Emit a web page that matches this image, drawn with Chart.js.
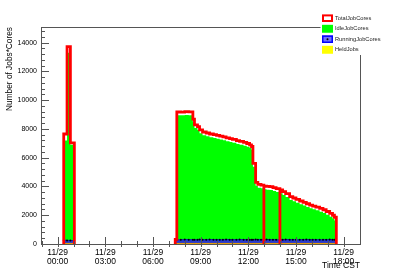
<!DOCTYPE html>
<html><head><meta charset="utf-8">
<style>html,body{margin:0;padding:0;background:#fff}canvas{display:block}</style>
<script src="https://cdn.jsdelivr.net/npm/chart.js@4.4.0/dist/chart.umd.min.js"></script>
</head><body>
<canvas id="c" width="400" height="271"></canvas>
<script>
// hours relative to 11/29 00:00 (CST); null row separates the two active periods
const timeHours = [
  0.38, 0.38, 0.59, 0.80, 1.05,
  4.00,
  7.40, 7.40, 7.50, 7.75, 8.00, 8.25, 8.51, 8.61, 8.80, 8.93,
  9.12, 9.35, 9.56, 9.80, 10.00, 10.20, 10.40, 10.60, 10.82, 11.00,
  11.25, 11.45, 11.70, 11.90, 12.08, 12.20, 12.29, 12.46, 12.60, 12.80,
  12.98, 12.98, 13.15, 13.34, 13.55, 13.75, 13.99, 13.99, 14.16, 14.35,
  14.60, 14.80, 15.00, 15.23, 15.45, 15.65, 15.86, 16.05, 16.25, 16.49,
  16.70, 16.90, 17.12, 17.30, 17.42, 17.54
];
const totalJobCores = [
  0, 7650, 13720, 7030, 0,
  null,
  0, 320, 9180, 9170, 9200, 9190, 8690, 8280, 8160, 7930,
  7790, 7720, 7650, 7600, 7550, 7500, 7450, 7380, 7330, 7270,
  7190, 7130, 7060, 6990, 6900, 6780, 5610, 4290, 4150, 4100,
  0, 4030, 4010, 3990, 3920, 3850, 0, 3760, 3640, 3500,
  3290, 3200, 3100, 2990, 2900, 2800, 2710, 2640, 2570, 2480,
  2380, 2260, 2130, 2000, 1860, 0
];
const idleJobCores = [
  0, 7200, 13300, 6900, 0,
  null,
  0, 0, 8960, 8950, 8970, 8960, 8460, 8060, 7930, 7700,
  7560, 7490, 7420, 7370, 7320, 7270, 7220, 7150, 7100, 7040,
  6960, 6900, 6830, 6760, 6670, 6550, 5380, 4050, 3910, 3870,
  3870, 3800, 3780, 3760, 3690, 3620, 3620, 3530, 3410, 3270,
  3060, 2970, 2870, 2760, 2670, 2570, 2480, 2410, 2340, 2250,
  2150, 2030, 1900, 1770, 1630, 0
];
const runningJobCores = [
  0, 260, 250, 240, 0,
  null,
  0, 300, 290, 300, 310, 300, 300, 290, 300, 310,
  300, 300, 310, 300, 300, 290, 300, 310, 300, 300,
  300, 310, 300, 300, 290, 300, 300, 310, 300, 300,
  300, 300, 310, 300, 300, 290, 300, 300, 300, 310,
  300, 300, 290, 300, 300, 310, 300, 300, 300, 290,
  300, 300, 310, 300, 300, 0
];
const heldJobs = [
  0, 40, 40, 40, 0,
  null,
  0, 40, 40, 40, 40, 40, 40, 40, 40, 40,
  40, 40, 40, 40, 40, 40, 40, 40, 40, 40,
  40, 40, 40, 40, 40, 40, 40, 40, 40, 40,
  40, 40, 40, 40, 40, 40, 40, 40, 40, 40,
  40, 40, 40, 40, 40, 40, 40, 40, 40, 40,
  40, 40, 40, 40, 40, 0
];
const xMajorTicks = [0, 3, 6, 9, 12, 15, 18];
const xDateLabel = '11/29';
const yMajorTicks = [0, 2000, 4000, 6000, 8000, 10000, 12000, 14000];
const legendItems = ['TotalJobCores', 'IdleJobCores', 'RunningJobCores', 'HeldJobs'];

const FONT = "'Liberation Sans', Arial, Helvetica, sans-serif";
const mk = arr => timeHours.map((t, i) => ({x: t, y: arr[i]}));

const rootStyle = {
  id: 'rootStyle',
  afterDatasetsDraw(chart) {
    const {ctx, chartArea: a, scales: {x, y}} = chart;
    ctx.save();
    ctx.strokeStyle = '#555';
    ctx.lineWidth = 1;
    ctx.beginPath();
    for (let v = 0; v <= y.max; v += 400) {
      const py = Math.round(y.getPixelForValue(v)) + 0.5;
      if (py < a.top) continue;
      const len = (v % 2000 === 0) ? 8 : 4;
      ctx.moveTo(a.left, py); ctx.lineTo(a.left + len, py);
    }
    for (let h = Math.ceil(x.min); h <= x.max; h++) {
      const px = Math.round(x.getPixelForValue(h)) + 0.5;
      if (px < a.left || px > a.right) continue;
      if (h % 3 === 0) { ctx.moveTo(px, a.bottom - 7); ctx.lineTo(px, a.bottom + 3); }
      else { ctx.moveTo(px, a.bottom - 3); ctx.lineTo(px, a.bottom + 3); }
    }
    ctx.stroke();
    ctx.strokeRect(Math.round(a.left) + 0.5, Math.round(a.top) + 0.5, Math.round(a.right - a.left), Math.round(a.bottom - a.top));
    ctx.restore();
  },
  afterDraw(chart) {
    const {ctx} = chart;
    ctx.save();
    ctx.fillStyle = '#fff';
    ctx.fillRect(320.5, 0, 80, 55);
    const styles = [
      {fill: '#ffffff', stroke: '#ff0000', lw: 2},
      {fill: '#00ff00', stroke: '#00ff00', lw: 1},
      {fill: '#6f6fff', stroke: '#0000ff', lw: 1.5, dot: true},
      {fill: '#ffff00', stroke: '#ffff00', lw: 1}
    ];
    ctx.font = '5.7px ' + FONT;
    ctx.textBaseline = 'middle';
    legendItems.forEach((name, i) => {
      const cy = 18.2 + i * 10.5;
      const s = styles[i];
      ctx.fillStyle = s.fill;
      ctx.fillRect(322, cy - 3.8, 11, 7.6);
      ctx.strokeStyle = s.stroke;
      ctx.lineWidth = s.lw;
      ctx.strokeRect(322 + s.lw / 2, cy - 3.8 + s.lw / 2, 11 - s.lw, 7.6 - s.lw);
      if (s.dot) { ctx.fillStyle = '#000'; ctx.beginPath(); ctx.arc(327.5, cy, 1, 0, 2 * Math.PI); ctx.fill(); }
      ctx.fillStyle = '#222';
      ctx.fillText(name, 335, cy);
    });
    ctx.restore();
  }
};

new Chart(document.getElementById('c'), {
  type: 'line',
  data: {
    datasets: [
      {label: 'IdleJobCores', data: mk(idleJobCores), stepped: true, borderWidth: 0, borderColor: '#00ff00',
       backgroundColor: '#00ff00', fill: 'origin', pointRadius: 0, order: 4},
      {label: 'RunningJobCores', data: mk(runningJobCores), stepped: true, borderWidth: 1, borderColor: '#1020b0',
       backgroundColor: '#2a3acc', fill: 'origin', order: 3,
       pointRadius: c => (c.raw && c.raw.y > 0) ? 1 : 0, pointBackgroundColor: '#000', pointBorderWidth: 0},
      {label: 'HeldJobs', data: mk(heldJobs), stepped: true, borderWidth: 1, borderColor: '#f0a000',
       backgroundColor: '#ffcc00', fill: 'origin', pointRadius: 0, order: 2},
      {label: 'TotalJobCores', data: mk(totalJobCores), stepped: true, borderWidth: 2.8, borderColor: '#ff0000',
       fill: false, pointRadius: 0, order: 1}
    ]
  },
  options: {
    responsive: false, animation: false, devicePixelRatio: 1,
    layout: {padding: {left: 0, top: 27, right: 40, bottom: 0}},
    plugins: {legend: {display: false}, tooltip: {enabled: false}},
    elements: {line: {tension: 0}},
    scales: {
      x: {
        type: 'linear', min: -1.05, max: 19.03,
        grid: {display: false, drawTicks: false}, border: {display: false},
        afterBuildTicks: s => { s.ticks = xMajorTicks.map(v => ({value: v})); },
        ticks: {
          autoSkip: false, maxRotation: 0, padding: 4, color: '#000',
          font: {family: FONT, size: 8.5, lineHeight: 1.08},
          callback: v => [xDateLabel, String(v).padStart(2, '0') + ':00']
        },
        title: {display: true, text: 'Time CST', align: 'end', color: '#000', padding: 0,
                font: {family: FONT, size: 8.5, lineHeight: 1.2}},
        afterFit: s => { s.height = 27; }
      },
      y: {
        min: 0, max: 15090,
        grid: {display: false, drawTicks: false}, border: {display: false},
        afterBuildTicks: s => { s.ticks = yMajorTicks.map(v => ({value: v})); },
        ticks: {padding: 4, color: '#000', font: {family: FONT, size: 7}, callback: v => String(v)},
        title: {display: true, text: 'Number of Jobs*Cores', align: 'end', color: '#000',
                padding: {top: 5, bottom: 0}, font: {family: FONT, size: 8.3, lineHeight: 1.1}},
        afterFit: s => { s.width = 41; }
      }
    }
  },
  plugins: [rootStyle]
});
</script>
</body></html>
